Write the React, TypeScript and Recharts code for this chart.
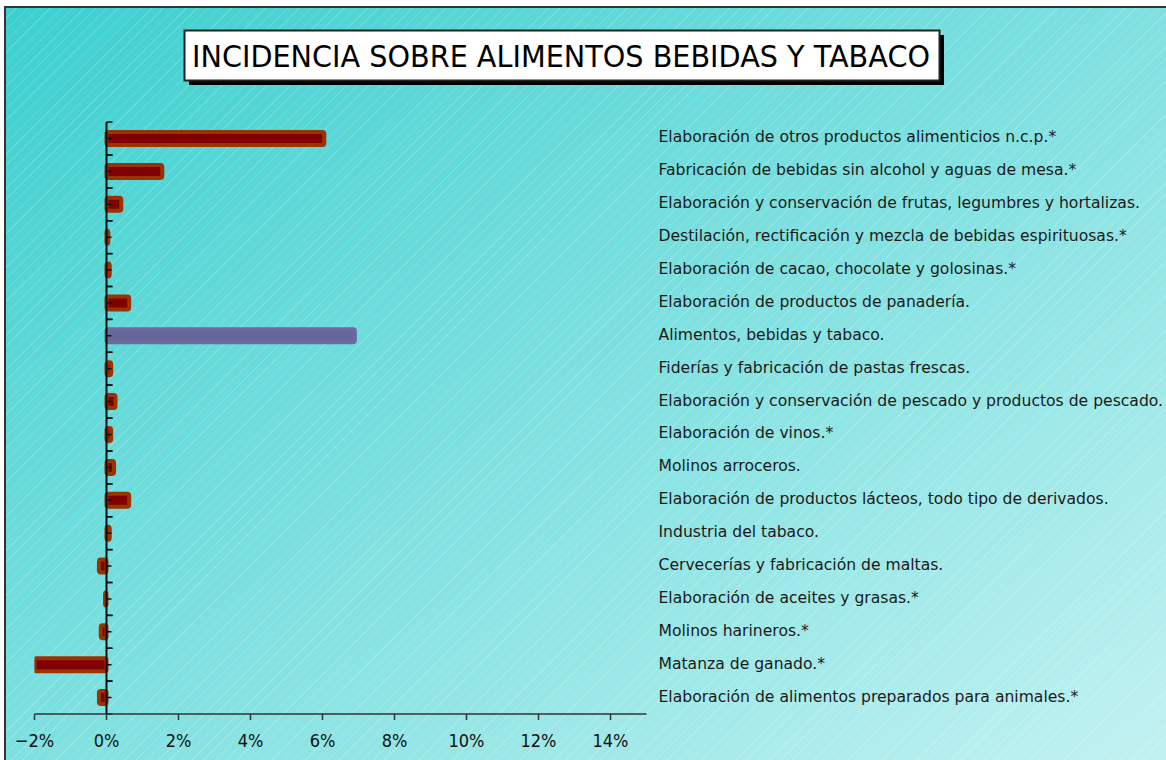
import React from 'react';
import { BarChart, Bar, XAxis, YAxis, ReferenceLine } from 'recharts';

const TITLE = 'INCIDENCIA SOBRE ALIMENTOS BEBIDAS Y TABACO';
const TOTAL = 'Alimentos, bebidas y tabaco.';

const categories = [
  'Elaboración de otros productos alimenticios n.c.p.*',
  'Fabricación de bebidas sin alcohol y aguas de mesa.*',
  'Elaboración y conservación de frutas, legumbres y hortalizas.',
  'Destilación, rectificación y mezcla de bebidas espirituosas.*',
  'Elaboración de cacao, chocolate y golosinas.*',
  'Elaboración de productos de panadería.',
  'Alimentos, bebidas y tabaco.',
  'Fiderías y fabricación de pastas frescas.',
  'Elaboración y conservación de pescado y productos de pescado.',
  'Elaboración de vinos.*',
  'Molinos arroceros.',
  'Elaboración de productos lácteos, todo tipo de derivados.',
  'Industria del tabaco.',
  'Cervecerías y fabricación de maltas.',
  'Elaboración de aceites y grasas.*',
  'Molinos harineros.*',
  'Matanza de ganado.*',
  'Elaboración de alimentos preparados para animales.*',
];

const incidencia = [6.05, 1.55, 0.41, 0.05, 0.09, 0.63, 6.9, 0.13, 0.25, 0.13, 0.21, 0.63, 0.09, -0.21, -0.04, -0.16, -2.0, -0.21];

const xTicks = [-2, 0, 2, 4, 6, 8, 10, 12, 14];
const xDomain: [number, number] = [-2, 15];

const data = categories.map((category, i) => ({ category, incidencia: incidencia[i] }));

const BarShape = (props: any) => {
  const { x, y, width, height, payload } = props;
  const v = payload.incidencia;
  const zero = v < 0 ? Math.max(x, x + width) : Math.min(x, x + width);
  const left = Math.min(x, x + width);
  const w = Math.abs(width);
  const cy = y + height / 2;
  const thick = 13;
  const isTotal = payload.category === TOTAL;
  return (
    <g>
      <rect
        x={left}
        y={cy - thick / 2}
        width={w}
        height={thick}
        rx={2}
        ry={2}
        fill={isTotal ? '#666699' : '#800000'}
        stroke={isTotal ? '#6b6ba0' : '#993300'}
        strokeWidth={4}
        strokeLinejoin="round"
      />
      <line x1={zero} x2={zero + 6} y1={y} y2={y} stroke="#111" strokeWidth={1.5} />
      <line x1={zero} x2={zero + 6} y1={y + height} y2={y + height} stroke="#111" strokeWidth={1.5} />
      <line x1={zero} x2={zero + 5} y1={cy} y2={cy} stroke="#111" strokeWidth={1.5} />
    </g>
  );
};

const CatTick = (props: any) => {
  const { x, y, payload } = props;
  return (
    <text x={x} y={y} dy={-1} textAnchor="start" dominantBaseline="central" fill="#1a1a1a" fontSize={15.6} fontFamily="'DejaVu Sans', sans-serif">
      {payload.value}
    </text>
  );
};

const fmt = (v: number) => (v < 0 ? `\u2212${Math.abs(v)}%` : `${v}%`);

export default function App() {
  return (
    <div style={{ position: 'absolute', left: 0, top: 0, width: 1166, height: 760, overflow: 'hidden', background: '#fff' }}>
      <div
        style={{
          position: 'absolute',
          left: 4,
          top: 6,
          width: 1200,
          height: 800,
          border: '2px solid #333',
          boxSizing: 'border-box',
          background:
            'repeating-linear-gradient(135deg, rgba(255,255,255,0) 0px, rgba(255,255,255,0) 7px, rgba(255,255,255,0.16) 7px, rgba(255,255,255,0.16) 8px), linear-gradient(to bottom right, #3ccfcf, #c8f3f3)',
        }}
      />
      <svg width={1166} height={760} style={{ position: 'absolute', left: 0, top: 0 }}>
        <rect x={189} y={35} width={755} height={50} fill="#000" />
        <rect x={184.5} y={30.5} width={755} height={50} fill="#fff" stroke="#222" strokeWidth={2} />
        <text x={192} y={56} dominantBaseline="central" fontSize={30} fontFamily="'DejaVu Sans', sans-serif" fill="#000" textLength={738} lengthAdjust="spacingAndGlyphs">
          {TITLE}
        </text>
      </svg>
      <div style={{ position: 'absolute', left: 0, top: 0 }}>
        <BarChart
          layout="vertical"
          width={1166}
          height={760}
          data={data}
          margin={{ top: 122, right: 0, bottom: 0, left: 34.5 }}
          barCategoryGap={0}
        >
          <XAxis
            type="number"
            domain={xDomain}
            ticks={xTicks}
            tickFormatter={fmt}
            height={46}
            axisLine={{ stroke: '#333', strokeWidth: 1.5 }}
            tickLine={{ stroke: '#333', strokeWidth: 1.5 }}
            tickSize={6}
            tickMargin={14}
            tick={{ fill: '#111', fontSize: 18, fontFamily: "'DejaVu Sans Condensed', 'DejaVu Sans', sans-serif" }}
            allowDataOverflow
          />
          <YAxis
            type="category"
            dataKey="category"
            orientation="right"
            width={519.5}
            axisLine={false}
            tickLine={false}
            tickSize={0}
            tickMargin={12}
            interval={0}
            tick={<CatTick />}
          />
          <Bar dataKey="incidencia" shape={<BarShape />} isAnimationActive={false} />
          <ReferenceLine x={0} stroke="#111" strokeWidth={2} />
        </BarChart>
      </div>
    </div>
  );
}
